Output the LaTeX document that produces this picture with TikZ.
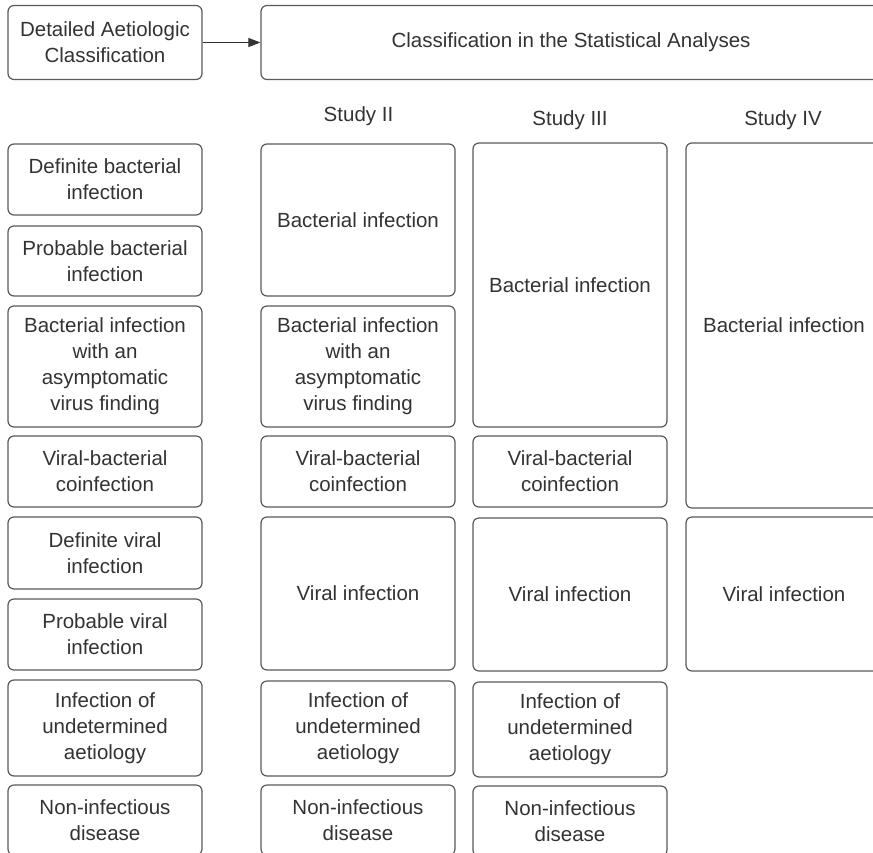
\documentclass[tikz,border=0pt]{standalone}
\usepackage{fontspec}
\setmainfont{Liberation Sans}
\usetikzlibrary{arrows.meta}
\definecolor{linec}{HTML}{5A5A5A}
\definecolor{textc}{HTML}{333333}
\newcommand{\boxfont}{\fontsize{20.5}{26}\selectfont}
\tikzset{
  box/.style={draw=linec, line width=1.2pt, rounded corners=6pt, align=center,
    inner sep=0pt, text=textc, font=\boxfont},
  lbl/.style={text=textc, font=\boxfont, inner sep=0pt},
  conn/.style={draw=textc, line width=1.1pt, -{Triangle[length=12pt,width=9pt]}}
}
\begin{document}
\begin{tikzpicture}[x=1pt,y=-1pt]
\useasboundingbox (0,0) rectangle (873,852);
\clip (0,0) rectangle (873,852);
\fill[white] (0,0) rectangle (873,852);
% header
\node[box, minimum width=194pt, minimum height=74pt] (hl) at (105,42.5) {Detailed Aetiologic\\Classification};
\node[box, minimum width=620pt, minimum height=74pt] (hr) at (571,42.5) {Classification in the Statistical Analyses};
\draw[conn] (hl.east) -- (hr.west);
% study labels
\node[lbl] (s2) at (358.5,116) {Study II};
\node[lbl] (s3) at (570,120) {Study III};
\node[lbl] (s4) at (783,120) {Study IV};
% column 1
\node[box, minimum width=194pt, minimum height=71pt] (a1) at (105,179.5) {Definite bacterial\\infection};
\node[box, minimum width=194pt, minimum height=70pt] (a2) at (105,261) {Probable bacterial\\infection};
\node[box, minimum width=194pt, minimum height=121pt] (a3) at (105,366.5) {Bacterial infection\\with an\\asymptomatic\\virus finding};
\node[box, minimum width=194pt, minimum height=71pt] (a4) at (105,471.5) {Viral-bacterial\\coinfection};
\node[box, minimum width=194pt, minimum height=72pt] (a5) at (105,553) {Definite viral\\infection};
\node[box, minimum width=194pt, minimum height=71pt] (a6) at (105,634.5) {Probable viral\\infection};
\node[box, minimum width=194pt, minimum height=96pt] (a7) at (105,728) {Infection of\\undetermined\\aetiology};
\node[box, minimum width=194pt, minimum height=70pt] (a8) at (105,820) {Non-infectious\\disease};
% column 2
\node[box, minimum width=194pt, minimum height=152pt] (b1) at (358,220) {Bacterial infection};
\node[box, minimum width=194pt, minimum height=121pt] (b2) at (358,366.5) {Bacterial infection\\with an\\asymptomatic\\virus finding};
\node[box, minimum width=194pt, minimum height=71pt] (b3) at (358,471.5) {Viral-bacterial\\coinfection};
\node[box, minimum width=194pt, minimum height=153pt] (b4) at (358,593.5) {Viral infection};
\node[box, minimum width=194pt, minimum height=95pt] (b5) at (358,728.5) {Infection of\\undetermined\\aetiology};
\node[box, minimum width=194pt, minimum height=70pt] (b6) at (358,820) {Non-infectious\\disease};
% column 3
\node[box, minimum width=194pt, minimum height=284pt] (c1) at (570,285) {Bacterial infection};
\node[box, minimum width=194pt, minimum height=71pt] (c2) at (570,471.5) {Viral-bacterial\\coinfection};
\node[box, minimum width=194pt, minimum height=153pt] (c3) at (570,594.5) {Viral infection};
\node[box, minimum width=194pt, minimum height=95pt] (c4) at (570,729.5) {Infection of\\undetermined\\aetiology};
\node[box, minimum width=194pt, minimum height=70pt] (c5) at (570,821) {Non-infectious\\disease};
% column 4
\node[box, minimum width=196pt, minimum height=365pt] (d1) at (784,325.5) {Bacterial infection};
\node[box, minimum width=196pt, minimum height=154pt] (d2) at (784,594) {Viral infection};
\end{tikzpicture}
\end{document}
